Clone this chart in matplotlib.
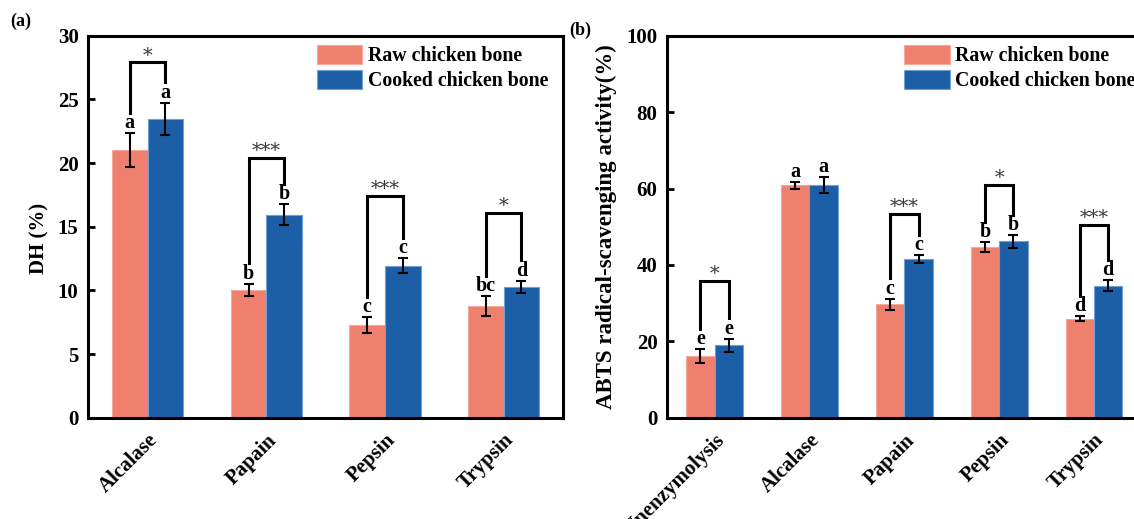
import numpy as np
import matplotlib
matplotlib.use("Agg")
import matplotlib.pyplot as plt
import matplotlib.transforms as mtransforms

plt.rcParams["font.family"] = ["Liberation Serif", "DejaVu Serif"]
plt.rcParams["font.weight"] = "bold"
plt.rcParams["axes.labelweight"] = "bold"

raw_color = "#F0806E"
cooked_color = "#1C5FA7"
series_labels = ["Raw chicken bone", "Cooked chicken bone"]

# (a) degree of hydrolysis
dh_enzymes = ["Alcalase", "Papain", "Pepsin", "Trypsin"]
dh_raw = [21.0, 10.03, 7.26, 8.77]
dh_raw_err = [1.33, 0.48, 0.63, 0.76]
dh_cooked = [23.46, 15.93, 11.94, 10.28]
dh_cooked_err = [1.27, 0.82, 0.6, 0.48]
dh_raw_letters = ["a", "b", "c", "bc"]
dh_cooked_letters = ["a", "b", "c", "d"]
dh_sig = ["*", "***", "***", "*"]
dh_bracket_top = [27.9, 20.4, 17.45, 16.05]

# (b) ABTS radical-scavenging activity
abts_groups = ["Unenzymolysis", "Alcalase", "Papain", "Pepsin", "Trypsin"]
abts_raw = [16.1, 60.8, 29.7, 44.6, 25.9]
abts_raw_err = [1.9, 0.85, 1.45, 1.3, 0.6]
abts_cooked = [19.0, 60.9, 41.6, 46.2, 34.5]
abts_cooked_err = [1.7, 2.1, 1.0, 1.65, 1.45]
abts_raw_letters = ["e", "a", "c", "b", "d"]
abts_cooked_letters = ["e", "a", "c", "b", "d"]
abts_sig = ["*", None, "***", "*", "***"]
abts_bracket_top = [35.8, None, 53.3, 60.9, 50.4]

width = 0.30
fs_tick = 15


def draw_panel(ax, groups, raw, raw_err, cooked, cooked_err, raw_let, cooked_let,
               sig, bracket_top, gap, ylim, yticks, ylabel, ylabel_size, legend_x):
    x = np.arange(len(groups))
    xr = x - width / 2
    xc = x + width / 2
    ax.bar(xr, raw, width, color=raw_color, edgecolor="#F6A99B", lw=0.8,
           label=series_labels[0], zorder=2)
    ax.bar(xc, cooked, width, color=cooked_color, edgecolor="#6E9FD6", lw=0.8,
           label=series_labels[1], zorder=2)
    ax.errorbar(xr, raw, yerr=raw_err, fmt="none", ecolor="black", elinewidth=1.5,
                capsize=3.6, capthick=1.5, zorder=3)
    ax.errorbar(xc, cooked, yerr=cooked_err, fmt="none", ecolor="black", elinewidth=1.5,
                capsize=3.6, capthick=1.5, zorder=3)

    raw_top = np.array(raw) + np.array(raw_err)
    cooked_top = np.array(cooked) + np.array(cooked_err)
    for i in range(len(groups)):
        ax.annotate(raw_let[i], (xr[i], raw_top[i]), xytext=(0, 0),
                    textcoords="offset points", ha="center", va="bottom",
                    fontsize=14.5, fontweight="bold")
        ax.annotate(cooked_let[i], (xc[i], cooked_top[i]), xytext=(0, 0),
                    textcoords="offset points", ha="center", va="bottom",
                    fontsize=14.5, fontweight="bold")
        if sig[i] is None:
            continue
        top = bracket_top[i]
        ax.plot([xr[i], xr[i], xc[i], xc[i]],
                [raw_top[i] + gap, top, top, cooked_top[i] + gap],
                color="black", lw=2.2, solid_joinstyle="miter", zorder=4)
        ax.annotate(sig[i], (x[i], top), xytext=(0, -1.5), textcoords="offset points",
                    ha="center", va="bottom", fontsize=14, fontweight="normal",
                    color="#3a3a3a", family="DejaVu Serif")

    ax.set_xlim(-0.5, len(groups) - 0.5)
    ax.set_ylim(*ylim)
    ax.set_yticks(yticks)
    ax.set_xticks(x)
    ax.set_xticklabels(groups, rotation=45, ha="right", va="top",
                       rotation_mode="anchor", fontsize=fs_tick, fontweight="bold")
    shift = mtransforms.ScaledTranslation(11 / 100, 0, ax.figure.dpi_scale_trans)
    for lab in ax.get_xticklabels():
        lab.set_transform(lab.get_transform() + shift)
    ax.tick_params(axis="both", direction="in", length=5, width=2, labelsize=fs_tick)
    ax.tick_params(axis="y", pad=7)
    ax.tick_params(axis="x", pad=9)
    for lab in ax.get_yticklabels():
        lab.set_fontweight("bold")
    for sp in ax.spines.values():
        sp.set_linewidth(2.2)
    ax.set_ylabel(ylabel, fontsize=ylabel_size, fontweight="bold")
    ax.legend(loc="upper left", bbox_to_anchor=(legend_x, 0.975), frameon=False,
              handlelength=2.3, handleheight=1.05, labelspacing=0.2,
              handletextpad=0.3, borderpad=0, borderaxespad=0,
              prop=dict(size=14.3, weight="bold"))


fig = plt.figure(figsize=(11.34, 5.19), dpi=100)
ax_a = fig.add_axes([0.0779, 0.1952, 0.4186, 0.7360])
ax_b = fig.add_axes([0.5884, 0.1952, 0.4181, 0.7360])

draw_panel(ax_a, dh_enzymes, dh_raw, dh_raw_err, dh_cooked, dh_cooked_err,
           dh_raw_letters, dh_cooked_letters, dh_sig, dh_bracket_top, 1.6,
           (0, 30), [0, 5, 10, 15, 20, 25, 30], "DH (%)", 15, 0.481)
draw_panel(ax_b, abts_groups, abts_raw, abts_raw_err, abts_cooked, abts_cooked_err,
           abts_raw_letters, abts_cooked_letters, abts_sig, abts_bracket_top, 5.3,
           (0, 100), [0, 20, 40, 60, 80, 100],
           "ABTS radical-scavenging activity(%)", 16.5, 0.499)

ax_a.yaxis.set_label_coords(-0.082, 0.47)
ax_b.yaxis.set_label_coords(-0.105, 0.5)

fig.text(0.009, 0.958, "(a)", fontsize=13, fontweight="bold", va="center")
fig.text(0.502, 0.942, "(b)", fontsize=13, fontweight="bold", va="center")

fig.savefig("out.png", dpi=100)
